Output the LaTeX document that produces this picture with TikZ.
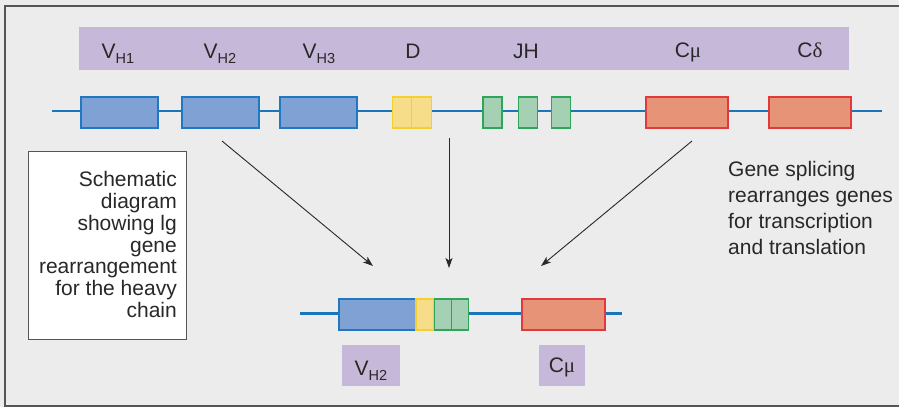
\documentclass[tikz,border=0pt]{standalone}
\usepackage{fontspec}
\setmainfont{Liberation Sans}
\newfontfamily\symf{Liberation Serif}
\usetikzlibrary{arrows.meta}
\definecolor{bg}{HTML}{EBECEB}
\definecolor{frm}{HTML}{555555}
\definecolor{txt}{HTML}{2A2728}
\definecolor{purp}{HTML}{C6B8D8}
\definecolor{dna}{HTML}{1B75BB}
\definecolor{vfill}{HTML}{7FA1D4}
\definecolor{vline}{HTML}{1F78C1}
\definecolor{dfill}{HTML}{F6DD8A}
\definecolor{dline}{HTML}{F3CF2F}
\definecolor{jfill}{HTML}{A6D0B4}
\definecolor{jline}{HTML}{2EA55A}
\definecolor{cfill}{HTML}{E69378}
\definecolor{cline}{HTML}{E03A3E}
\newcommand{\lsub}[1]{\raisebox{-5pt}{\fontsize{14.5}{14.5}\selectfont #1}}
\newcommand{\lmu}{{\symf μ}}
\newcommand{\ldelta}{{\symf δ}}
\begin{document}
\begin{tikzpicture}[x=1pt,y=-1pt,
  seg/.style={draw, line width=1.3pt, inner sep=0pt, minimum height=31pt},
  vseg/.style={seg, fill=vfill, draw=vline},
  dseg/.style={seg, fill=dfill, draw=dline},
  jseg/.style={seg, fill=jfill, draw=jline},
  cseg/.style={seg, fill=cfill, draw=cline},
  lab/.style={anchor=base, inner sep=0pt, text=txt, font=\fontsize{21}{22}\selectfont},
  tag/.style={fill=purp, inner sep=0pt},
  arr/.style={draw=txt, line width=0.9pt, -{Stealth[length=10pt,width=7pt,inset=2.5pt]}},
  dnaline/.style={draw=dna, line width=2.5pt}]
\useasboundingbox (0,0) rectangle (899,407);
\fill[bg] (0,0) rectangle (899,407);
\draw[frm, line width=2pt] (899,6) -- (5,6) -- (5,406) -- (899,406);
% purple band
\node[tag, minimum width=770pt, minimum height=43pt] (band) at (464,48.5) {};
% labels
\node[lab] (lv1) at (118,58) {V\lsub{H1}};
\node[lab] (lv2) at (220,58) {V\lsub{H2}};
\node[lab] (lv3) at (319,58) {V\lsub{H3}};
\node[lab] (ld) at (413,58) {D};
\node[lab] (lj) at (526,58) {JH};
\node[lab] (lcm) at (688,57) {C\lmu};
\node[lab] (lcd) at (810,57) {C\ldelta};
% top gene line
\coordinate (t0) at (52,111);
\coordinate (t1) at (882,111);
\draw[dnaline] (t0) -- (t1);
\node[vseg, minimum width=77pt] (v1) at (119.5,112.5) {};
\node[vseg, minimum width=77pt] (v2) at (220.5,112.5) {};
\node[vseg, minimum width=77pt] (v3) at (318.5,112.5) {};
\node[dseg, minimum width=19.5pt] (d1) at (402,112.5) {};
\node[dseg, minimum width=19.5pt] (d2) at (421.5,112.5) {};
\node[jseg, minimum width=19pt] (j1) at (492.5,112.5) {};
\node[jseg, minimum width=19pt] (j2) at (528,112.5) {};
\node[jseg, minimum width=19pt] (j3) at (561,112.5) {};
\node[cseg, minimum width=82pt] (cm) at (687,112.5) {};
\node[cseg, minimum width=82pt] (cd) at (810,112.5) {};
% arrows
\coordinate (a1s) at (222,141);
\coordinate (a1e) at (373,266);
\coordinate (a2s) at (449,138);
\coordinate (a2e) at (449,268);
\coordinate (a3s) at (692,141);
\coordinate (a3e) at (541,266);
\draw[arr] (a1s) -- (a1e);
\draw[arr] (a2s) -- (a2e);
\draw[arr] (a3s) -- (a3e);
% bottom gene line
\coordinate (b0) at (300,313.5);
\coordinate (b1) at (622,313.5);
\draw[dnaline] (b0) -- (b1);
\node[vseg, minimum width=77pt] (bv) at (377.5,314.5) {};
\node[dseg, minimum width=18pt] (bd) at (425,314.5) {};
\node[jseg, minimum width=17pt] (bj1) at (443,314.5) {};
\node[jseg, minimum width=17pt] (bj2) at (460,314.5) {};
\node[cseg, minimum width=83pt] (bc) at (563.5,314.5) {};
% bottom tags
\node[tag, minimum width=58pt, minimum height=41pt] (tv) at (371,365.5) {};
\node[lab] at (371,375) {V\lsub{H2}};
\node[tag, minimum width=46pt, minimum height=41pt] (tc) at (562,365.5) {};
\node[lab] at (562,372) {C\lmu};
% left text box
\node[draw=frm, fill=white, line width=1pt, minimum width=158pt, minimum height=188pt, inner sep=0pt] (box) at (107,245) {};
\node[anchor=north east, inner sep=0pt, align=right, text=txt, font=\fontsize{21}{21.7}\selectfont] (boxtxt) at (177,171.5)
  {Schematic\\diagram\\showing lg\\gene\\rearrangement\\for the heavy\\chain};
% right text
\node[anchor=north west, inner sep=0pt, align=left, text=txt, font=\fontsize{21}{25.7}\selectfont] (rtxt) at (728,161.5)
  {Gene splicing\\rearranges genes\\for transcription\\and translation};
\end{tikzpicture}
\end{document}
